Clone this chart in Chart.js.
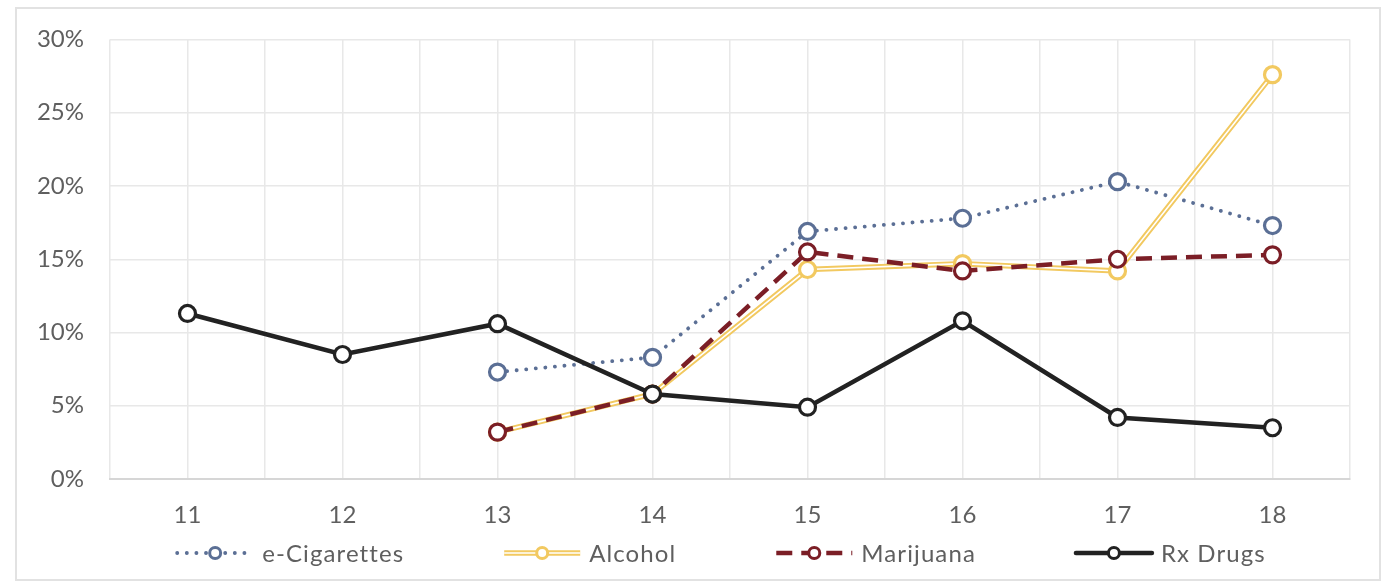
<!DOCTYPE html>
<html lang="en">
<head>
    <meta charset="UTF-8">
    <title>Substance use by age</title>
    <script src="https://cdn.jsdelivr.net/npm/chart.js"></script>
    <style>
        body { margin: 0; background: #fff; }
        .frame {
            position: absolute; left: 15px; top: 7px;
            width: 1366px; height: 574px;
            border: 2px solid #e2e2e2; box-sizing: border-box;
        }
    </style>
</head>
<body>
    <div class="frame">
        <canvas id="useChart"></canvas>
    </div>

    <script>
        // values (percent)
        const ages = [11, 12, 13, 14, 15, 16, 17, 18];
        const eCigarettes = [null, null, 7.3, 8.3, 16.9, 17.8, 20.3, 17.3];
        const alcohol = [null, null, 3.2, 5.8, 14.3, 14.7, 14.2, 27.6];
        const marijuana = [null, null, 3.2, 5.8, 15.5, 14.2, 15.0, 15.3];
        const rxDrugs = [11.3, 8.5, 10.6, 5.8, 4.9, 10.8, 4.2, 3.5];
        const seriesNames = ['e-Cigarettes', 'Alcohol', 'Marijuana', 'Rx Drugs'];

        const textColor = '#5f5f5f';
        const fontFamily = 'Lato, "Open Sans", sans-serif';
        const pts = arr => ages.map((a, i) => ({ x: a, y: arr[i] }));

        // look of each series, also used by the legend
        const looks = [
            { color: '#5b6f95', width: 3.8, dash: [0.1, 9.5], cap: 'round' },
            { color: '#f2c960', width: 5.5, inner: 1.6 },
            { color: '#7b1e26', width: 4.5, dash: [16, 9], cap: 'butt' },
            { color: '#222222', width: 4.5, dash: [], cap: 'round' }
        ];

        const pointStyle = c => ({
            pointRadius: 8,
            pointHoverRadius: 8,
            pointBorderWidth: 3.2,
            pointBorderColor: c,
            pointBackgroundColor: '#fff'
        });

        // legend drawn under the axis, items spread like the original
        const bottomLegend = {
            id: 'bottomLegend',
            afterDraw(chart) {
                const ctx = chart.ctx;
                const area = chart.chartArea;
                const markW = 76, textGap = 9, itemGap = 100;
                const y = 544;
                ctx.save();
                ctx.font = '24px ' + fontFamily;
                ctx.letterSpacing = '1.1px';
                const widths = seriesNames.map(n => markW + textGap + ctx.measureText(n).width);
                const total = widths.reduce((s, w) => s + w, 0) + itemGap * (widths.length - 1);
                let x = (area.left + area.right) / 2 - 8.5 - total / 2;
                seriesNames.forEach((name, i) => {
                    const lk = looks[i];
                    ctx.beginPath();
                    ctx.moveTo(x, y);
                    ctx.lineTo(x + markW, y);
                    ctx.strokeStyle = lk.color;
                    ctx.lineWidth = lk.width;
                    ctx.lineCap = lk.cap || 'butt';
                    ctx.setLineDash(lk.dash || []);
                    ctx.stroke();
                    if (lk.inner) {
                        ctx.beginPath();
                        ctx.moveTo(x, y);
                        ctx.lineTo(x + markW, y);
                        ctx.strokeStyle = '#fff';
                        ctx.lineWidth = lk.inner;
                        ctx.stroke();
                    }
                    ctx.setLineDash([]);
                    ctx.beginPath();
                    ctx.arc(x + markW / 2, y, 5.5, 0, Math.PI * 2);
                    ctx.fillStyle = '#fff';
                    ctx.fill();
                    ctx.lineWidth = 3;
                    ctx.strokeStyle = lk.color;
                    ctx.stroke();
                    ctx.fillStyle = textColor;
                    ctx.textBaseline = 'middle';
                    ctx.textAlign = 'left';
                    ctx.fillText(name, x + markW + textGap, y + 1);
                    x += widths[i] + itemGap;
                });
                ctx.restore();
            }
        };

        const ctx = document.getElementById('useChart').getContext('2d');
        const useChart = new Chart(ctx, {
            type: 'line',
            data: {
                datasets: [
                    {
                        label: seriesNames[3],
                        data: pts(rxDrugs),
                        borderColor: looks[3].color,
                        borderWidth: looks[3].width,
                        ...pointStyle(looks[3].color),
                        order: 0
                    },
                    {
                        label: seriesNames[2],
                        data: pts(marijuana),
                        borderColor: looks[2].color,
                        borderWidth: looks[2].width,
                        borderDash: looks[2].dash,
                        ...pointStyle(looks[2].color),
                        order: 1
                    },
                    {
                        // white core of the double line
                        label: seriesNames[1],
                        data: pts(alcohol),
                        borderColor: '#fff',
                        borderWidth: looks[1].inner,
                        ...pointStyle(looks[1].color),
                        order: 2
                    },
                    {
                        label: seriesNames[1] + ' outline',
                        data: pts(alcohol),
                        borderColor: looks[1].color,
                        borderWidth: looks[1].width,
                        pointRadius: 0,
                        pointHoverRadius: 0,
                        order: 3
                    },
                    {
                        label: seriesNames[0],
                        data: pts(eCigarettes),
                        borderColor: looks[0].color,
                        borderWidth: looks[0].width,
                        borderDash: looks[0].dash,
                        borderCapStyle: 'round',
                        ...pointStyle(looks[0].color),
                        order: 4
                    }
                ]
            },
            options: {
                responsive: true,
                maintainAspectRatio: false,
                animation: false,
                layout: { padding: { left: 17, right: 29, top: 30.5, bottom: 0 } },
                plugins: {
                    legend: { display: false },
                    tooltip: { enabled: false }
                },
                scales: {
                    x: {
                        type: 'linear',
                        min: 10.5,
                        max: 18.5,
                        afterFit: s => { s.height = 100; },
                        grid: { color: '#e8e8e8', lineWidth: 1.5, drawTicks: false },
                        border: { display: true, color: '#d6d6d6', width: 2 },
                        ticks: {
                            stepSize: 0.5,
                            autoSkip: false,
                            maxRotation: 0,
                            padding: 22,
                            color: textColor,
                            font: { family: fontFamily, size: 24 },
                            callback: v => Number.isInteger(v) ? String(v) : ''
                        }
                    },
                    y: {
                        min: 0,
                        max: 30,
                        afterFit: s => { s.width = 76; s.paddingTop = 0; s.paddingBottom = 0; },
                        grid: { color: '#e8e8e8', lineWidth: 1.5, drawTicks: false },
                        border: { display: false },
                        ticks: {
                            stepSize: 5,
                            padding: 26,
                            color: textColor,
                            font: { family: fontFamily, size: 24 },
                            callback: v => v + '%'
                        }
                    }
                }
            },
            plugins: [bottomLegend]
        });
    </script>
</body>
</html>
